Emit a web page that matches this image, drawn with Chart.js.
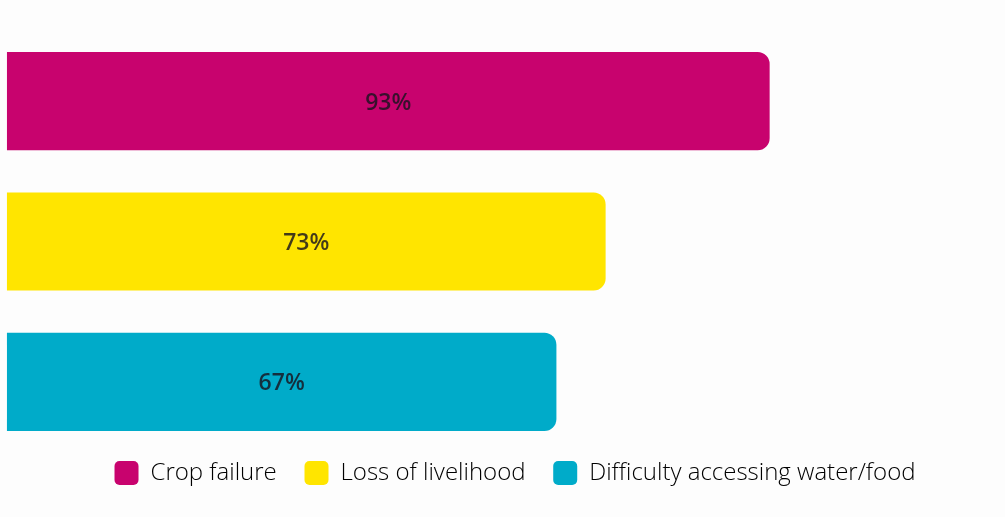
<!DOCTYPE html>
<html>
<head>
<meta charset="utf-8">
<script src="https://cdn.jsdelivr.net/npm/chart.js@4"></script>
<style>
  html, body { margin: 0; padding: 0; background: #fdfdfd; }
  #wrap { width: 1005px; height: 517px; }
</style>
</head>
<body>
<div id="wrap"><canvas id="impactChart" width="1005" height="517"></canvas></div>
<script>
const categories = ['Crop failure', 'Loss of livelihood', 'Difficulty accessing water/food'];
const shares = [93, 73, 67];
const barColors = ['#c8036e', '#ffe500', '#00abc9'];

// draws the % text in the middle of every bar
const barLabels = {
  id: 'barLabels',
  afterDatasetsDraw(chart) {
    const ctx = chart.ctx;
    const meta = chart.getDatasetMeta(0);
    ctx.save();
    ctx.font = '600 23px "Open Sans", sans-serif';
    ctx.fillStyle = 'rgba(25, 20, 30, 0.82)';
    ctx.textAlign = 'center';
    ctx.textBaseline = 'middle';
    meta.data.forEach((bar, i) => {
      const cx = (bar.base + bar.x) / 2;
      ctx.fillText(shares[i] + '%', cx, bar.y + 2);
    });
    ctx.restore();
  }
};

new Chart(document.getElementById('impactChart'), {
  type: 'bar',
  data: {
    labels: categories,
    datasets: [{
      data: shares,
      backgroundColor: barColors,
      borderRadius: 12,
      barPercentage: 0.7,
      categoryPercentage: 1,
      clip: false
    }]
  },
  options: {
    indexAxis: 'y',
    responsive: false,
    animation: false,
    // extra left padding nudges the centred legend right; x min puts 0 back near the left edge
    layout: { padding: { left: 25, right: 0, top: 31, bottom: 22 } },
    scales: {
      x: { display: false, min: 2.2, max: 121.7 },
      y: { display: false }
    },
    plugins: {
      tooltip: { enabled: false },
      legend: {
        position: 'bottom',
        labels: {
          useBorderRadius: true,
          borderRadius: 5,
          boxWidth: 24,
          boxHeight: 24,
          padding: 9,
          color: '#8f9399',
          font: { family: '"Open Sans", sans-serif', size: 24, weight: 300 },
          generateLabels(chart) {
            // trailing spaces widen the gap between items without moving the row down
            return categories.map((c, i) => ({
              text: i < categories.length - 1 ? c + '   ' : c,
              fillStyle: barColors[i],
              strokeStyle: barColors[i],
              lineWidth: 0,
              borderRadius: 5,
              hidden: false,
              index: i
            }));
          }
        }
      }
    }
  },
  plugins: [barLabels]
});
</script>
</body>
</html>
